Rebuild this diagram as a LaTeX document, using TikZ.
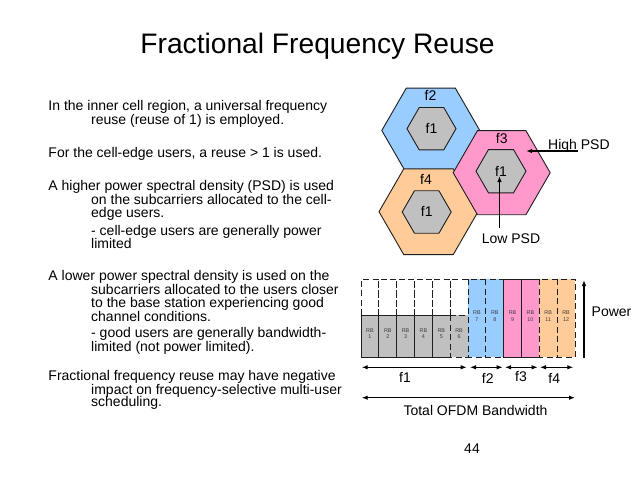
\documentclass[tikz,border=0pt]{standalone}
\usepackage{fontspec}
\setmainfont{Liberation Sans}
\usetikzlibrary{arrows.meta}
\definecolor{cblue}{RGB}{153,204,255}
\definecolor{cpink}{RGB}{255,153,204}
\definecolor{corange}{RGB}{255,204,153}
\definecolor{cgray}{RGB}{192,192,192}
\definecolor{cline}{RGB}{30,30,30}
\definecolor{rbtext}{RGB}{60,60,60}
\begin{document}
\begin{tikzpicture}[x=1pt,y=-1pt,
  txt/.style={anchor=base west, inner sep=0pt, font=\fontsize{14}{16}\selectfont},
  lbl/.style={anchor=base, inner sep=0pt, font=\fontsize{14}{16}\selectfont},
  rb/.style={inner sep=0pt, align=center, text=rbtext, font=\fontsize{5.4}{6.5}\selectfont},
  cell/.style={draw=cline, line width=0.9pt},
  dsh/.style={draw=cline, line width=0.9pt, dash pattern=on 6pt off 3.5pt},
  arr/.style={draw=black, line width=1.1pt, -{Latex[length=6pt,width=4.5pt]}},
  darr/.style={draw=black, line width=1.1pt, {Latex[length=6pt,width=4.5pt]}-{Latex[length=6pt,width=4.5pt]}}
]
\fill[white] (0,0) rectangle (638,479);
\useasboundingbox (0,0) rectangle (638,479);

% title
\node[anchor=base, inner sep=0pt, font=\fontsize{28.2}{32}\selectfont] (title) at (317.5,53.3) {Fractional Frequency Reuse};

% body text
\node[txt] (l1) at (48.3,110.7) {In the inner cell region, a universal frequency};
\node[txt] (l2) at (91,124) {reuse (reuse of 1) is employed.};
\node[txt] (l3) at (48.3,157.3) {For the cell-edge users, a reuse > 1 is used.};
\node[txt] (l4) at (48.3,190.7) {A higher power spectral density (PSD) is used};
\node[txt] (l5) at (91,204.3) {on the subcarriers allocated to the cell-};
\node[txt] (l6) at (91,217.5) {edge users.};
\node[txt] (l7) at (91,235) {- cell-edge users are generally power};
\node[txt] (l8) at (91,248.3) {limited};
\node[txt] (l9) at (48.3,280.7) {A lower power spectral density is used on the};
\node[txt] (l10) at (91,294.3) {subcarriers allocated to the users closer};
\node[txt] (l11) at (91,307.7) {to the base station experiencing good};
\node[txt] (l12) at (91,321) {channel conditions.};
\node[txt] (l13) at (91,337.7) {- good users are generally bandwidth-};
\node[txt] (l14) at (91,351) {limited (not power limited).};
\node[txt] (l15) at (48.3,380.7) {Fractional frequency reuse may have negative};
\node[txt] (l16) at (91,394) {impact on frequency-selective multi-user};
\node[txt] (l17) at (91,406.7) {scheduling.};

% page number
\node[lbl] (page) at (472,453.3) {44};

% hexagonal cells
\coordinate (h2) at (430.8,130.5);
\coordinate (h4) at (428.5,211.7);
\coordinate (h3) at (501.7,172.7);
\coordinate (i2) at (431.5,128.7);
\coordinate (i4) at (426.7,212);
\coordinate (i3) at (501,171.2);

\filldraw[cell, fill=cblue] (h2) +(0:49) -- +(60:49) -- +(120:49) -- +(180:49) -- +(240:49) -- +(300:49) -- cycle;
\filldraw[cell, fill=cgray] (i2) +(0:24.5) -- +(60:24.5) -- +(120:24.5) -- +(180:24.5) -- +(240:24.5) -- +(300:24.5) -- cycle;
\filldraw[cell, fill=corange] (h4) +(0:49.5) -- +(60:49.5) -- +(120:49.5) -- +(180:49.5) -- +(240:49.5) -- +(300:49.5) -- cycle;
\filldraw[cell, fill=cgray] (i4) +(0:24.5) -- +(60:24.5) -- +(120:24.5) -- +(180:24.5) -- +(240:24.5) -- +(300:24.5) -- cycle;
\filldraw[cell, fill=cpink] (h3) +(0:48.5) -- +(60:48.5) -- +(120:48.5) -- +(180:48.5) -- +(240:48.5) -- +(300:48.5) -- cycle;
\filldraw[cell, fill=cgray] (i3) +(0:25) -- +(60:25) -- +(120:25) -- +(180:25) -- +(240:25) -- +(300:25) -- cycle;

\node[lbl] (f2c) at (430.5,100) {f2};
\node[lbl] (f3c) at (501.7,143.3) {f3};
\node[lbl] (f4c) at (426,184) {f4};
\node[lbl] (f1a) at (431.5,133.5) {f1};
\node[lbl] (f1b) at (426.7,216.5) {f1};
\node[lbl] (f1c) at (501,176) {f1};

% PSD annotations
\node[txt] (hpsd) at (548,149.3) {High PSD};
\node[lbl] (lpsd) at (511,243.3) {Low PSD};
\coordinate (hs) at (578,151);
\coordinate (he) at (526,151);
\coordinate (ls) at (499.5,228);
\coordinate (le) at (499.5,176);
\draw[arr] (hs) -- (he);
\draw[arr] (ls) -- (le);

% resource blocks
\foreach \i in {1,...,6}{
  \pgfmathsetmacro{\xa}{361+17.833*(\i-1)}
  \pgfmathsetmacro{\xb}{\xa+17.833}
  \draw[dsh] (\xa,315) -- (\xa,279) -- (\xb,279) -- (\xb,315);
}
\foreach \i in {1,...,5}{
  \pgfmathsetmacro{\xa}{361+17.833*(\i-1)}
  \pgfmathsetmacro{\xb}{\xa+17.833}
  \filldraw[cell, fill=cgray] (\xa,315) rectangle (\xb,357);
}
\filldraw[dsh, fill=cgray] (450.2,315) rectangle (468,357);
% RB 7-8 blue
\fill[cblue] (468,279) rectangle (503.7,357);
\draw[dsh] (468,279) rectangle (503.7,357);
\draw[dsh] (485.8,279) -- (485.8,357);
% RB 9-10 pink
\filldraw[cell, fill=cpink] (503.7,279) rectangle (521.5,357);
\filldraw[cell, fill=cpink] (521.5,279) rectangle (539.3,357);
% RB 11-12 orange
\fill[corange] (539.3,279) rectangle (575,357);
\draw[dsh] (539.3,279) rectangle (575,357);
\draw[dsh] (557.2,279) -- (557.2,357);

\foreach \i in {1,...,6}{
  \pgfmathsetmacro{\xc}{361+17.833*(\i-0.5)}
  \node[rb] (rb\i) at (\xc,333.5) {RB\\\i};
}
\foreach \i in {7,...,12}{
  \pgfmathsetmacro{\xc}{361+17.833*(\i-0.5)}
  \node[rb] (rb\i) at (\xc,316.2) {RB\\\i};
}

% power axis
\coordinate (ps) at (584,358);
\coordinate (pe) at (584,280);
\draw[arr] (ps) -- (pe);
\node[txt] (power) at (591.5,316.7) {Power};

% band arrows
\coordinate (a1) at (361.7,367.3); \coordinate (b1) at (466.7,367.3);
\coordinate (a2) at (470,367.3);   \coordinate (b2) at (502.7,367.3);
\coordinate (a3) at (505,367.3);   \coordinate (b3) at (537.7,367.3);
\coordinate (a4) at (540,367.3);   \coordinate (b4) at (573.3,367.3);
\draw[darr] (a1) -- (b1);
\draw[darr] (a2) -- (b2);
\draw[darr] (a3) -- (b3);
\draw[darr] (a4) -- (b4);
\node[lbl] (bf1) at (405,382.7) {f1};
\node[lbl] (bf2) at (487.7,383.3) {f2};
\node[lbl] (bf3) at (521,381) {f3};
\node[lbl] (bf4) at (554.3,383.3) {f4};

\coordinate (ta) at (361.7,397.7);
\coordinate (tb) at (575,397.7);
\draw[darr] (ta) -- (tb);
\node[lbl] (tot) at (475.5,415) {Total OFDM Bandwidth};
\end{tikzpicture}
\end{document}
